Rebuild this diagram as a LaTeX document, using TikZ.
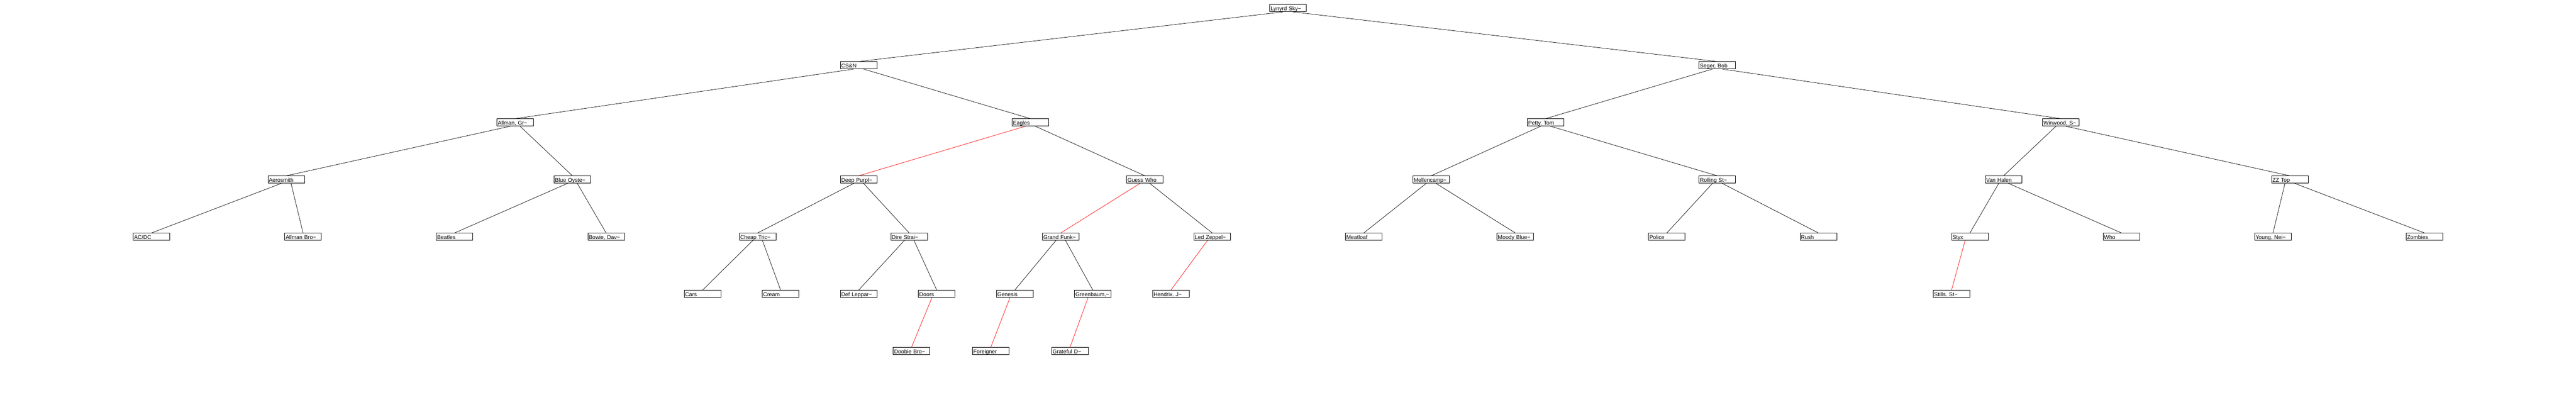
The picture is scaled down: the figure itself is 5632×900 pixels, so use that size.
\documentclass[tikz,border=0pt]{standalone}
\usepackage{fontspec}
\setmainfont{Liberation Sans}
\newcommand{\tld}{\textasciitilde}
\begin{document}
\begin{tikzpicture}[x=1pt,y=-1pt,
  bnode/.style={draw=black,line width=1pt,fill=white,rectangle,minimum width=80pt,minimum height=15.5pt,
    inner xsep=2pt,inner ysep=0pt,text width=76pt,align=left,text height=12.5pt,text depth=2pt,
    font=\fontsize{12pt}{12pt}\selectfont},
  blk/.style={draw=black,line width=0.8pt},
  redl/.style={draw=red,line width=0.8pt}]
\useasboundingbox[fill=white] (0,0) rectangle (5632,900);
% level 0
\node[bnode] (n0) at (2816,17.75) {Lynyrd Sky\tld};
% level 1
\node[bnode] (a) at (1877.33,142.75) {CS\&N};
\node[bnode] (b) at (3754.67,142.75) {Seger, Bob};
% level 2
\node[bnode] (c0) at (1126.4,267.75) {Allman, Gr\tld};
\node[bnode] (c1) at (2252.8,267.75) {Eagles};
\node[bnode] (c2) at (3379.2,267.75) {Petty, Tom};
\node[bnode] (c3) at (4505.6,267.75) {Winwood, S\tld};
% level 3
\node[bnode] (e0) at (625.78,392.75) {Aerosmith};
\node[bnode] (e1) at (1251.56,392.75) {Blue Oyste\tld};
\node[bnode] (e2) at (1877.33,392.75) {Deep Purpl\tld};
\node[bnode] (e3) at (2503.11,392.75) {Guess Who};
\node[bnode] (e4) at (3128.89,392.75) {Mellencamp\tld};
\node[bnode] (e5) at (3754.67,392.75) {Rolling St\tld};
\node[bnode] (e6) at (4380.44,392.75) {Van Halen};
\node[bnode] (e7) at (5006.22,392.75) {ZZ Top};
% level 4
\node[bnode] (f1) at (331.29,517.75) {AC/DC};
\node[bnode] (f2) at (662.59,517.75) {Allman Bro\tld};
\node[bnode] (f3) at (993.88,517.75) {Beatles};
\node[bnode] (f4) at (1325.18,517.75) {Bowie, Dav\tld};
\node[bnode] (f5) at (1656.47,517.75) {Cheap Tric\tld};
\node[bnode] (f6) at (1987.76,517.75) {Dire Strai\tld};
\node[bnode] (f7) at (2319.06,517.75) {Grand Funk\tld};
\node[bnode] (f8) at (2650.35,517.75) {Led Zeppel\tld};
\node[bnode] (f9) at (2981.65,517.75) {Meatloaf};
\node[bnode] (f10) at (3312.94,517.75) {Moody Blue\tld};
\node[bnode] (f11) at (3644.24,517.75) {Police};
\node[bnode] (f12) at (3975.53,517.75) {Rush};
\node[bnode] (f13) at (4306.82,517.75) {Styx};
\node[bnode] (f14) at (4638.12,517.75) {Who};
\node[bnode] (f15) at (4969.41,517.75) {Young, Nei\tld};
\node[bnode] (f16) at (5300.71,517.75) {Zombies};
% level 5
\node[bnode] (g8) at (1536,642.75) {Cars};
\node[bnode] (g9) at (1706.67,642.75) {Cream};
\node[bnode] (g10) at (1877.33,642.75) {Def Leppar\tld};
\node[bnode] (g11) at (2048,642.75) {Doors};
\node[bnode] (g12) at (2218.67,642.75) {Genesis};
\node[bnode] (g13) at (2389.33,642.75) {Greenbaum,\tld};
\node[bnode] (g14) at (2560,642.75) {Hendrix, J\tld};
\node[bnode] (g24) at (4266.67,642.75) {Stills, St\tld};
% level 6
\node[bnode] (h22) at (1992.86,767.75) {Doobie Bro\tld};
\node[bnode] (h24) at (2166.15,767.75) {Foreigner};
\node[bnode] (h26) at (2339.45,767.75) {Grateful D\tld};
% edges
\draw[blk] ([xshift=-10.5pt]n0.south) -- (a.north);
\draw[blk] ([xshift=10.5pt]n0.south) -- (b.north);
\draw[blk] ([xshift=-10.5pt]a.south) -- (c0.north);
\draw[blk] ([xshift=10.5pt]a.south) -- (c1.north);
\draw[blk] ([xshift=-10.5pt]b.south) -- (c2.north);
\draw[blk] ([xshift=10.5pt]b.south) -- (c3.north);
\draw[blk] ([xshift=-10.5pt]c0.south) -- (e0.north);
\draw[blk] ([xshift=10.5pt]c0.south) -- (e1.north);
\draw[redl] ([xshift=-10.5pt]c1.south) -- (e2.north);
\draw[blk] ([xshift=10.5pt]c1.south) -- (e3.north);
\draw[blk] ([xshift=-10.5pt]c2.south) -- (e4.north);
\draw[blk] ([xshift=10.5pt]c2.south) -- (e5.north);
\draw[blk] ([xshift=-10.5pt]c3.south) -- (e6.north);
\draw[blk] ([xshift=10.5pt]c3.south) -- (e7.north);
\draw[blk] ([xshift=-10.5pt]e0.south) -- (f1.north);
\draw[blk] ([xshift=10.5pt]e0.south) -- (f2.north);
\draw[blk] ([xshift=-10.5pt]e1.south) -- (f3.north);
\draw[blk] ([xshift=10.5pt]e1.south) -- (f4.north);
\draw[blk] ([xshift=-10.5pt]e2.south) -- (f5.north);
\draw[blk] ([xshift=10.5pt]e2.south) -- (f6.north);
\draw[redl] ([xshift=-10.5pt]e3.south) -- (f7.north);
\draw[blk] ([xshift=10.5pt]e3.south) -- (f8.north);
\draw[blk] ([xshift=-10.5pt]e4.south) -- (f9.north);
\draw[blk] ([xshift=10.5pt]e4.south) -- (f10.north);
\draw[blk] ([xshift=-10.5pt]e5.south) -- (f11.north);
\draw[blk] ([xshift=10.5pt]e5.south) -- (f12.north);
\draw[blk] ([xshift=-10.5pt]e6.south) -- (f13.north);
\draw[blk] ([xshift=10.5pt]e6.south) -- (f14.north);
\draw[blk] ([xshift=-10.5pt]e7.south) -- (f15.north);
\draw[blk] ([xshift=10.5pt]e7.south) -- (f16.north);
\draw[blk] ([xshift=-10.5pt]f5.south) -- (g8.north);
\draw[blk] ([xshift=10.5pt]f5.south) -- (g9.north);
\draw[blk] ([xshift=-10.5pt]f6.south) -- (g10.north);
\draw[blk] ([xshift=10.5pt]f6.south) -- (g11.north);
\draw[blk] ([xshift=-10.5pt]f7.south) -- (g12.north);
\draw[blk] ([xshift=10.5pt]f7.south) -- (g13.north);
\draw[redl] ([xshift=-10.5pt]f8.south) -- (g14.north);
\draw[redl] ([xshift=-10.5pt]f13.south) -- (g24.north);
\draw[redl] ([xshift=-10.5pt]g11.south) -- (h22.north);
\draw[redl] ([xshift=-10.5pt]g12.south) -- (h24.north);
\draw[redl] ([xshift=-10.5pt]g13.south) -- (h26.north);
\end{tikzpicture}
\end{document}
